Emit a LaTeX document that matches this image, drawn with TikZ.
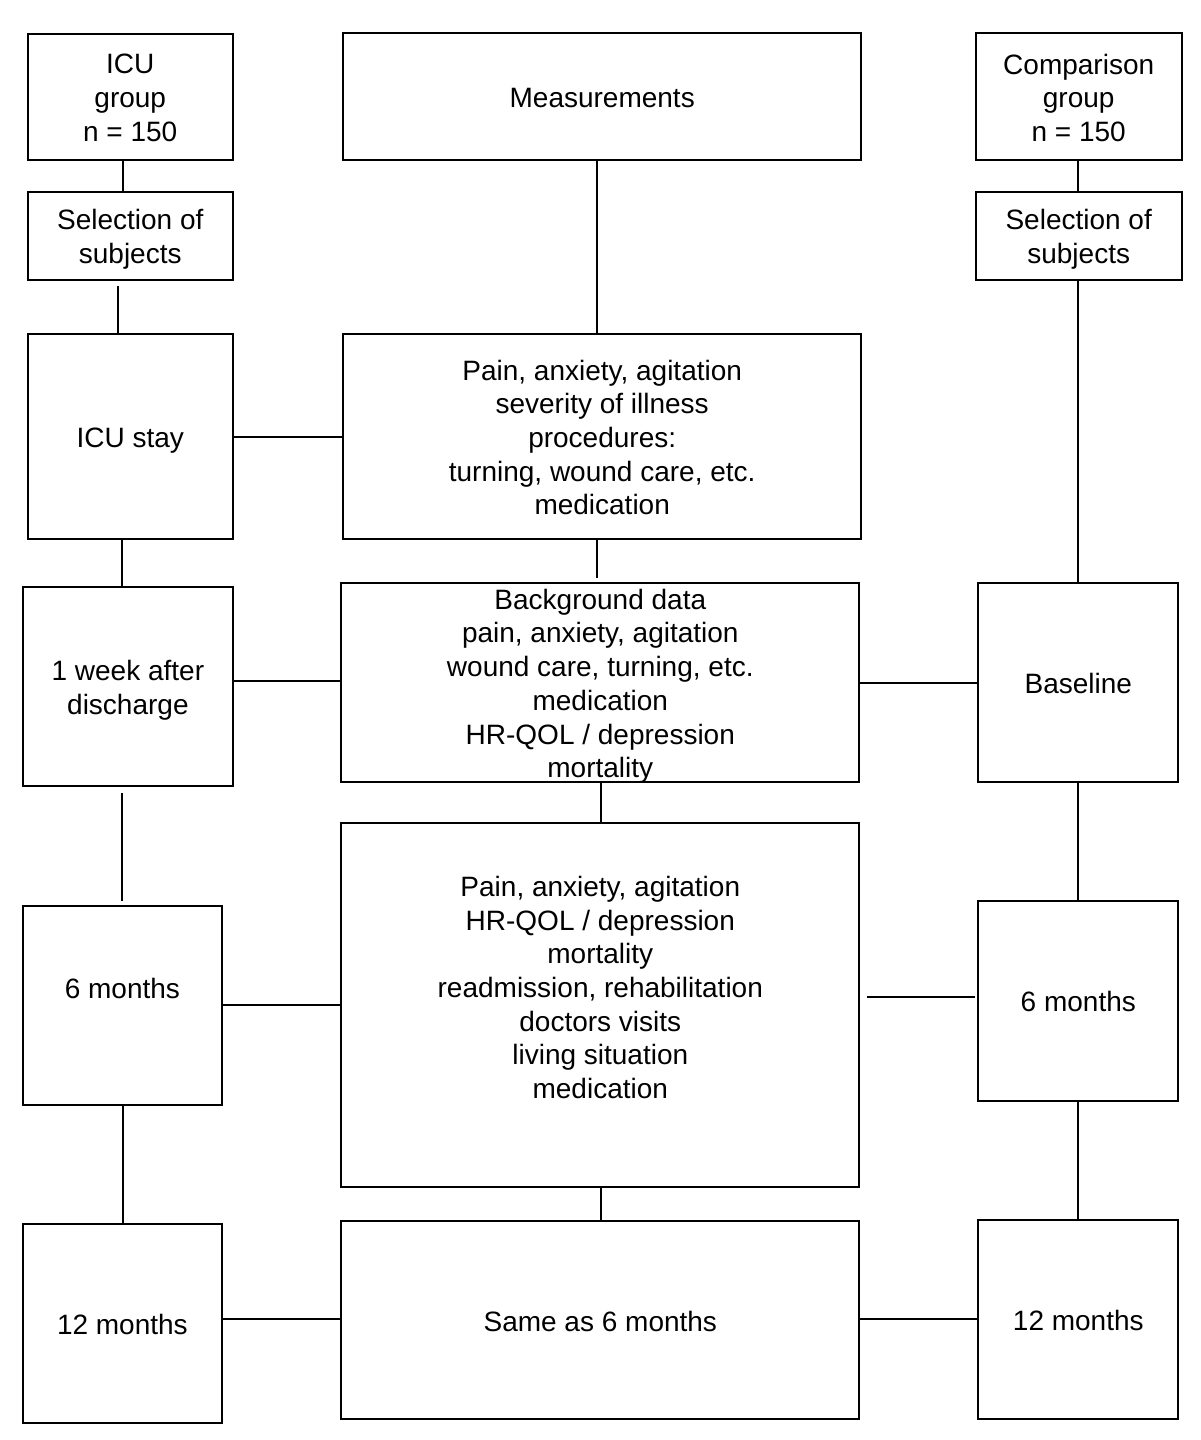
\documentclass[tikz,border=0pt]{standalone}
\usepackage{fontspec}
\setmainfont{Liberation Sans}
\usetikzlibrary{calc}
\newcommand\topfix{\rule{0pt}{28pt}}
\begin{document}
\begin{tikzpicture}[x=1pt,y=-1pt,
  txt/.style={inner sep=0pt, align=center, font=\fontsize{28}{33.7}\selectfont,
    execute at begin node={\rule{0pt}{28pt}},
    execute at end node={\rule[-6pt]{0pt}{6pt}}},
  box/.style={txt, draw=black, line width=2pt, rectangle},
  conn/.style={draw=black, line width=2pt}]
\useasboundingbox (0,0) rectangle (1200,1440);

% left column
\node[box, minimum width=205.5pt, minimum height=126pt] (icu) at (130.25,96.5) {\topfix ICU\\ group\\n = 150};
\node[box, minimum width=205.5pt, minimum height=88pt] (selL) at (130.25,235.5) {\topfix Selection of\\subjects};
\node[box, minimum width=205.5pt, minimum height=205pt] (stay) at (130.25,436) {ICU stay};
\node[box, minimum width=210.3pt, minimum height=199.3pt] (week) at (127.9,686.4) {\topfix 1 week after\\discharge};
\node[box, minimum width=199.3pt, minimum height=199pt] (m6L) at (122.4,1005.5) {};
\node[txt] (m6Ltxt) at (122.4,987) {6 months};
\node[box, minimum width=199.3pt, minimum height=199.3pt] (m12L) at (122.4,1323.7) {12 months};

% middle column
\node[box, minimum width=517.7pt, minimum height=126.2pt] (meas) at (602.2,96.4) {Measurements};
\node[box, minimum width=517.7pt, minimum height=205pt] (pain) at (602.2,436.5) {\topfix Pain, anxiety, agitation\\severity of illness\\procedures:\\turning, wound care, etc.\\medication};
\node[box, minimum width=518pt, minimum height=199pt] (bg) at (600.3,682.5) {};
\node[txt] (bgtxt) at (600.3,682.5) {\topfix Background data\\pain, anxiety, agitation\\wound care, turning, etc.\\medication\\HR-QOL / depression\\mortality};
\node[box, minimum width=518pt, minimum height=363.7pt] (big) at (600.3,1005.2) {};
\node[txt] (bigtxt) at (600.3,986.5) {\topfix Pain, anxiety, agitation\\HR-QOL / depression\\mortality\\readmission, rehabilitation\\doctors visits\\living situation\\medication};
\node[box, minimum width=518pt, minimum height=198.6pt] (same) at (600.3,1320) {Same as 6 months};

% right column
\node[box, minimum width=206pt, minimum height=126.7pt] (cmp) at (1078.7,96.7) {\topfix Comparison\\group\\n = 150};
\node[box, minimum width=206pt, minimum height=88.3pt] (selR) at (1078.7,235.8) {\topfix Selection of\\subjects};
\node[box, minimum width=200pt, minimum height=199.6pt] (base) at (1078.3,682.5) {Baseline};
\node[box, minimum width=200pt, minimum height=199.7pt] (m6R) at (1078.3,1000.8) {6 months};
\node[box, minimum width=200pt, minimum height=199.3pt] (m12R) at (1078.3,1319.7) {12 months};

% x / y positions of connectors
\coordinate (xa) at (122.7,0);
\coordinate (xb) at (118.3,0);
\coordinate (xc) at (122.3,0);
\coordinate (xm) at (597.2,0);
\coordinate (xn) at (600.7,0);
\coordinate (xr) at (1078.3,0);
\coordinate (ya) at (0,436.5);
\coordinate (yb) at (0,681.3);
\coordinate (yc) at (0,1005.3);
\coordinate (yd) at (0,1319.3);
\coordinate (ye) at (0,682.7);
\coordinate (yf) at (0,997.3);

% left vertical connectors
\draw[conn] (icu.south -| xa) -- (selL.north -| xa);
\draw[conn] ($(selL.south -| xb)+(0,5.5)$) -- (stay.north -| xb);
\draw[conn] (stay.south -| xc) -- (week.north -| xc);
\draw[conn] ($(week.south -| xc)+(0,5.7)$) -- ($(m6L.north -| xc)+(0,-4)$);
\draw[conn] (m6L.south -| xa) -- (m12L.north -| xa);

% middle vertical connectors
\draw[conn] (meas.south -| xm) -- (pain.north -| xm);
\draw[conn] (pain.south -| xm) -- ($(bg.north -| xm)+(0,-4.5)$);
\draw[conn] (bg.south -| xn) -- (big.north -| xn);
\draw[conn] (big.south -| xn) -- (same.north -| xn);

% right vertical connectors
\draw[conn] (cmp.south -| xr) -- (selR.north -| xr);
\draw[conn] (selR.south -| xr) -- (base.north -| xr);
\draw[conn] (base.south -| xr) -- (m6R.north -| xr);
\draw[conn] (m6R.south -| xr) -- (m12R.north -| xr);

% horizontal connectors
\draw[conn] (stay.east |- ya) -- (pain.west |- ya);
\draw[conn] (week.east |- yb) -- ($(bg.west |- yb)+(2,0)$);
\draw[conn] (m6L.east |- yc) -- (big.west |- yc);
\draw[conn] (m12L.east |- yd) -- (same.west |- yd);
\draw[conn] (bg.east |- ye) -- (base.west |- ye);
\draw[conn] ($(big.east |- yf)+(6.4,0)$) -- ($(m6R.west |- yf)+(-2.6,0)$);
\draw[conn] (same.east |- yd) -- (m12R.west |- yd);
\end{tikzpicture}
\end{document}
